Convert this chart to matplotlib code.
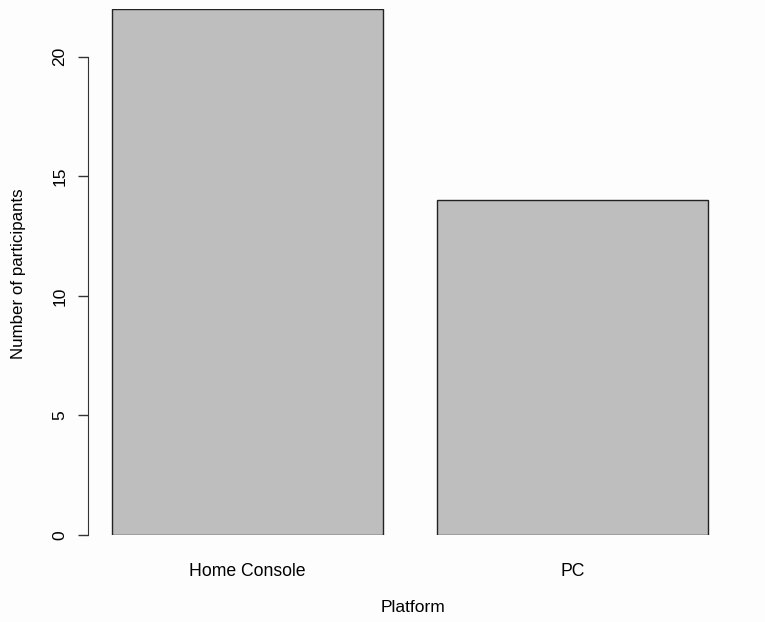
import matplotlib
matplotlib.use("Agg")
import matplotlib.pyplot as plt

platforms = ["Home Console", "PC"]
participants = [22, 14]
y_ticks = [0, 5, 10, 15, 20]

plt.rcParams['font.family'] = ['Liberation Sans', 'DejaVu Sans']

W, H = 765, 622
fig = plt.figure(figsize=(W / 100, H / 100), dpi=100, facecolor='#fdfdfd')

# axes placed in pixel terms, R barplot layout (width 1, space 0.2)
left_px, right_px, top_px, bot_px = 88, 740, 9, 535
ax = fig.add_axes([left_px / W, 1 - bot_px / H, (right_px - left_px) / W, (bot_px - top_px) / H])
ax.set_facecolor('none')

unit = 271.0
x0 = 112 - 0.2 * unit
ax.set_xlim((left_px - x0) / unit, (right_px - x0) / unit)
ax.set_ylim(0, 22)

lefts = [0.2 + i * 1.2 for i in range(len(platforms))]
centers = [l + 0.5 for l in lefts]
ax.bar(centers, participants, width=1.0, color='#bebebe', edgecolor='#222222', linewidth=1.0)

for s in ['top', 'right', 'bottom']:
    ax.spines[s].set_visible(False)
ax.spines['left'].set_bounds(0, 20)
ax.spines['left'].set_color('#333333')

ax.set_yticks(y_ticks)
ax.set_yticklabels([str(v) for v in y_ticks], rotation=90, va='center', fontsize=12.5)
ax.tick_params(axis='y', length=7, width=1, color='#333333', pad=8)
ax.set_xticks(centers)
ax.set_xticklabels(platforms, fontsize=12.7)
ax.tick_params(axis='x', length=0, pad=20)

fig.text(413 / W, 1 - 607 / H, "Platform", ha='center', va='center', fontsize=12.5)
fig.text(19 / W, 1 - 274 / H, "Number of participants", ha='center', va='center',
         rotation=90, fontsize=12.2)

fig.savefig("out.png", dpi=100, facecolor=fig.get_facecolor())
